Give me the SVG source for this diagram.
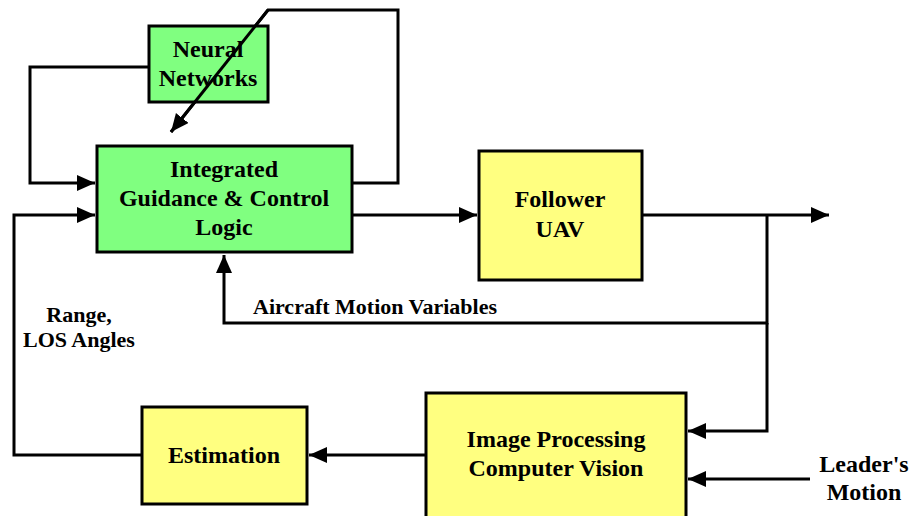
<svg xmlns="http://www.w3.org/2000/svg" width="911" height="516" viewBox="0 0 911 516">
<style>
.box{stroke:#000;stroke-width:3}
.g{fill:#80FF80}
.y{fill:#FFFF80}
.t{font-family:"Liberation Serif","Times New Roman",serif;font-weight:bold;font-size:24px;fill:#000;text-anchor:middle}
.l{font-family:"Liberation Serif","Times New Roman",serif;font-weight:bold;font-size:22px;fill:#000}
.c{fill:none;stroke:#000;stroke-width:3;stroke-linejoin:miter}
</style>
<defs>
<marker id="ah" markerUnits="userSpaceOnUse" markerWidth="20" markerHeight="18" refX="18" refY="8" orient="auto">
<path d="M0,0 L18,8 L0,16 Z" fill="#000"/>
</marker>
</defs>
<rect width="911" height="516" fill="#fff"/>
<g id="connectors">
<path class="c" d="M148,67 H30 V183 H95" marker-end="url(#ah)"/>
<path class="c" d="M352,183 H398 V10 H268 L171,132" marker-end="url(#ah)"/>
<path class="c" d="M352,215 H477" marker-end="url(#ah)"/>
<path class="c" d="M642,215 H829" marker-end="url(#ah)"/>
<path class="c" d="M767,215 V323 H224 V255" marker-end="url(#ah)"/>
<path class="c" d="M767,323 V431 H688" marker-end="url(#ah)"/>
<path class="c" d="M810,479 H688" marker-end="url(#ah)"/>
<path class="c" d="M426,455 H309" marker-end="url(#ah)"/>
<path class="c" d="M142,455 H14 V215 H95" marker-end="url(#ah)"/>
<text class="l" x="253" y="314">Aircraft Motion Variables</text>
<text class="l" x="79" y="322" text-anchor="middle">Range,</text>
<text class="l" x="79" y="347" text-anchor="middle">LOS Angles</text>
<text class="l" x="864" y="472" text-anchor="middle" style="font-size:24px">Leader's</text>
<text class="l" x="864" y="500" text-anchor="middle" style="font-size:24px">Motion</text>
</g>
<g id="neural">
<rect class="box g" x="149" y="26" width="119" height="76"/>
<text class="t" x="208" y="57">Neural</text>
<text class="t" x="208" y="86">Networks</text>
</g>
<path class="c" d="M268,10 L171,132" />
<g id="igc">
<rect class="box g" x="97" y="146" width="255" height="106"/>
<text class="t" x="224" y="177">Integrated</text>
<text class="t" x="224" y="206">Guidance &amp; Control</text>
<text class="t" x="224" y="235">Logic</text>
</g>
<g id="follower">
<rect class="box y" x="479" y="151" width="163" height="129"/>
<text class="t" x="560" y="207">Follower</text>
<text class="t" x="560" y="237">UAV</text>
</g>
<g id="imageproc">
<rect class="box y" x="426" y="393" width="260" height="126"/>
<text class="t" x="556" y="447">Image Processing</text>
<text class="t" x="556" y="476">Computer Vision</text>
</g>
<g id="estimation">
<rect class="box y" x="142" y="407" width="165" height="97"/>
<text class="t" x="224" y="463">Estimation</text>
</g>
</svg>
